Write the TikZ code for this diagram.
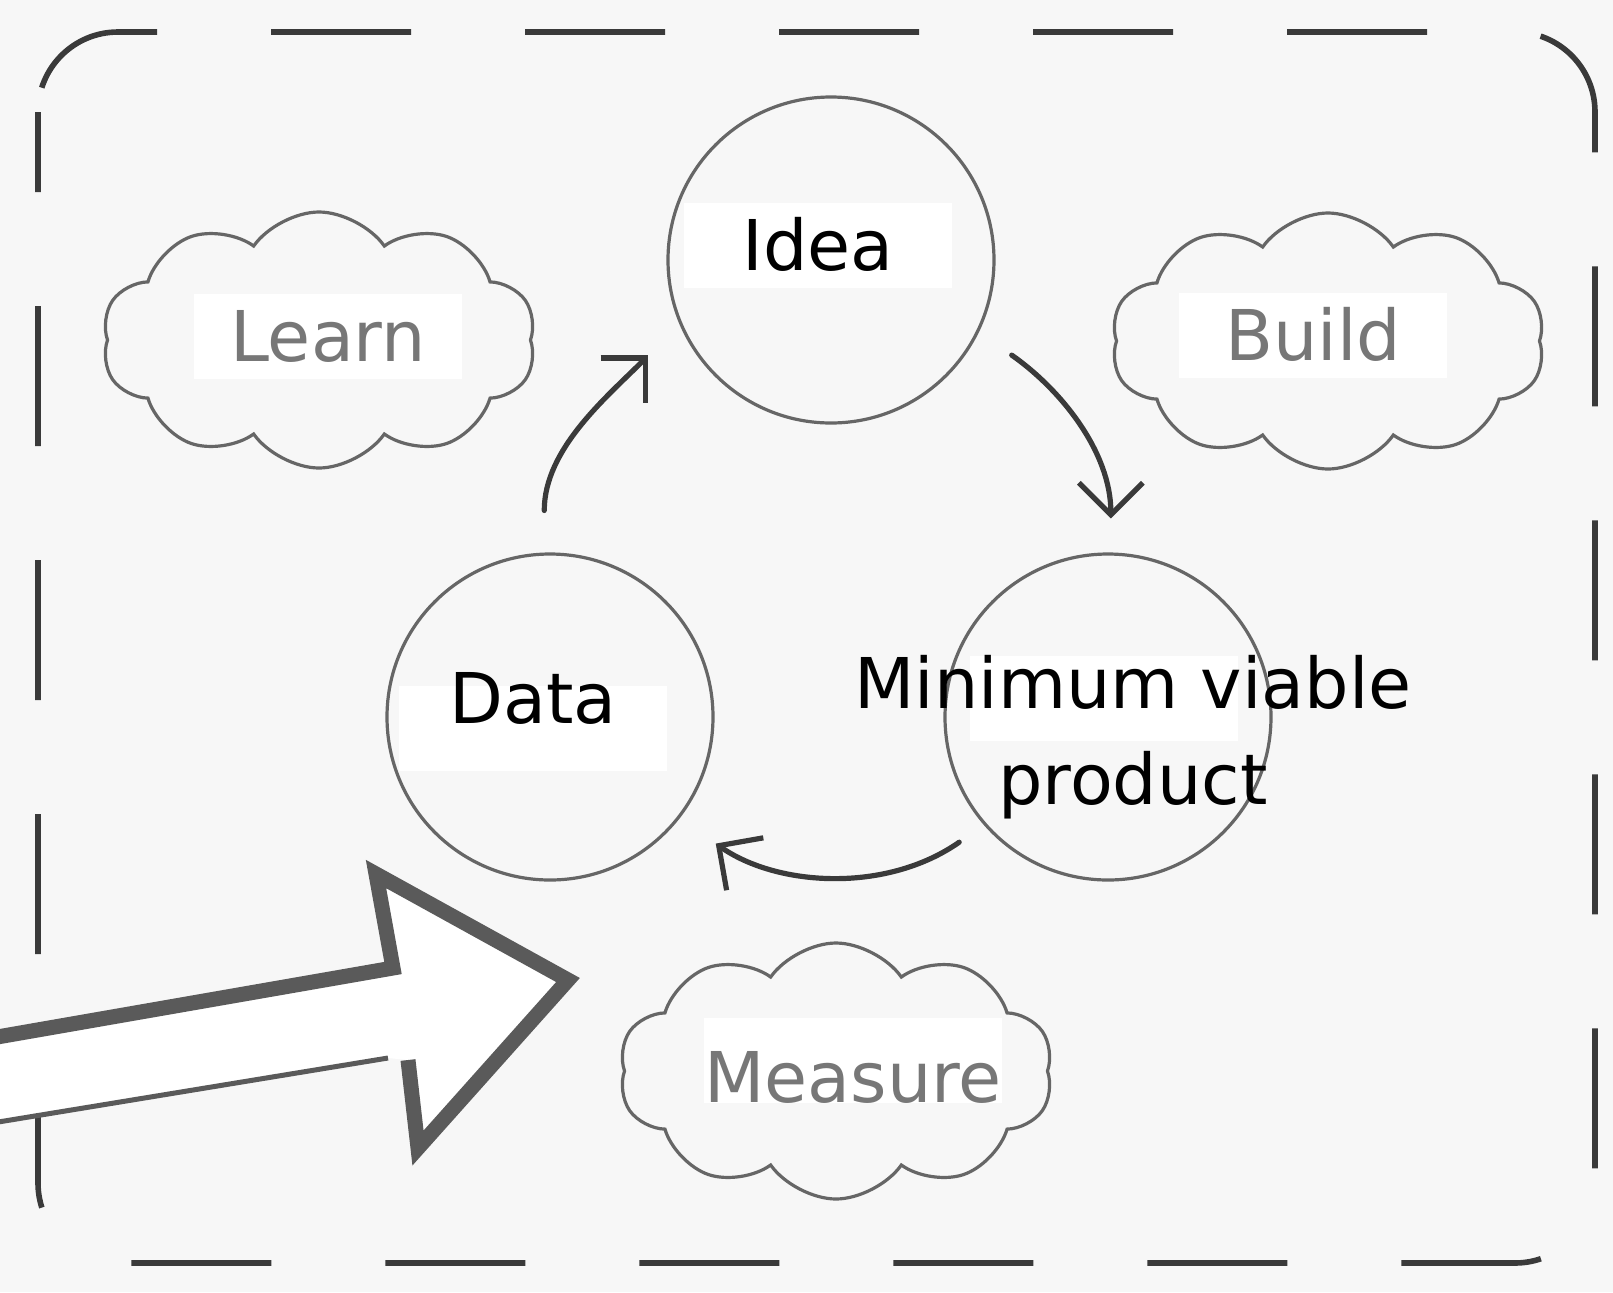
\documentclass[tikz,border=0pt]{standalone}
\usepackage{fontspec}
\setmainfont{DejaVu Sans}
\usetikzlibrary{shapes.symbols,arrows.meta}
\definecolor{myInk}{HTML}{3a3a3a}
\definecolor{myLine}{HTML}{666666}
\definecolor{myGrey}{HTML}{777777}
\definecolor{myArrow}{HTML}{5a5a5a}
\definecolor{myPaper}{HTML}{f7f7f7}

\begin{document}
\begin{tikzpicture}[x=0.5pt, y=-0.5pt, >={Straight Barb[length=16pt,width=32pt]}]
  \tikzstyle{C}=[circle, draw=myLine, line width=1.6pt, minimum size=163pt, inner sep=0pt]
  \tikzstyle{K}=[cloud, cloud puffs=10, cloud puff arc=110, aspect=1.7, draw=myLine, line width=1.6pt, minimum width=217pt, minimum height=128pt, inner sep=0pt]
  \tikzstyle{T}=[fill=white, text=black, font=\fontsize{35}{48}\selectfont, minimum width=134pt, text height=34pt, text depth=8.5pt, inner sep=0pt]
  \tikzstyle{G}=[T, text=myGrey]
  \tikzstyle{L}=[->, myInk, line width=2.6pt, line cap=round]

  \fill[myPaper] (0,0) rectangle (1613,1292);
  \useasboundingbox (0,0) rectangle (1613,1292);

  % frame
  \draw[myInk, line width=2.8pt, dash pattern=on 70pt off 57pt, dash phase=30pt, rounded corners=40pt] (38,32) rectangle (1595,1263);

  \node[C] at (831,260) (idea) {};
  \node[C] at (550,717) (data) {};
  \node[C] at (1108,717) (mvp) {};

  \node[K] at (319,340) (learnK) {};
  \node[K] at (1328,341) (buildK) {};
  \node[K] at (836,1071) (measureK) {};

  \draw[L, shorten <=21pt, shorten >=22pt] (data.92) to[out=90, in=225] (idea.203);
  \draw[L, shorten <=20pt, shorten >=17pt] (idea.334) to[out=-35, in=90] (mvp.89);
  \draw[L, shorten <=15pt, shorten >=22pt] (mvp.221) to[out=-145, in=-35] (data.322);

  % big arrow
  \fill[white] (-20,1040) -- (393,968) -- (376,874) -- (568,980) -- (418,1148) -- (408,1060) -- (388,1058) -- (-20,1125) -- cycle;
  \draw[myArrow, line width=7.5pt, line join=miter, miter limit=10] (-20,1040) -- (393,968) -- (376,874) -- (568,980) -- (418,1148) -- (408,1060);
  \draw[myArrow, line width=2.5pt] (388,1058) -- (-20,1125);

  \node[T] at (818,245) (ideaT) {Idea};
  \node[T, text height=19pt, text depth=23.5pt] at (533,728) (dataT) {Data};
  \node[G] at (328,336) (learnT) {Learn};
  \node[G] at (1313,335) (buildT) {Build};
  \node[G, text height=42.5pt, text depth=0pt] at (853,1060) (measureT) {Measure};
  \node[T] at (1104,698) (mvpbox) {};
  \node[align=center, inner sep=0pt, font=\fontsize{35}{48}\selectfont] at (1133,737) (mvpT) {Minimum viable\\product};

\end{tikzpicture}
\end{document}
